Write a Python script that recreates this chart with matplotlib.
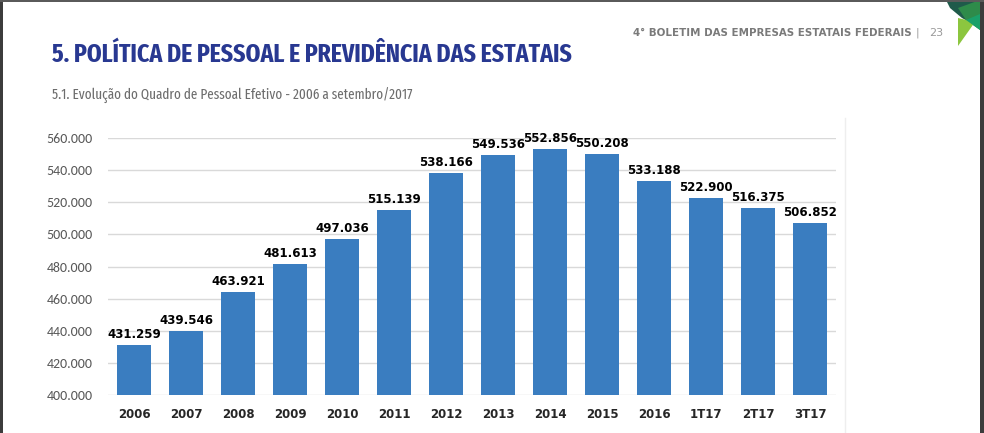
import matplotlib.pyplot as plt
import matplotlib.font_manager as fm
from matplotlib.patches import Polygon, Rectangle

# Data
categories = ["2006", "2007", "2008", "2009", "2010", "2011", "2012",
              "2013", "2014", "2015", "2016", "1T17", "2T17", "3T17"]
values = [431259, 439546, 463921, 481613, 497036, 515139, 538166,
          549536, 552856, 550208, 533188, 522900, 516375, 506852]
yticks = list(range(400000, 560001, 20000))

installed = {f.name for f in fm.fontManager.ttflist}


def pick(*names):
    return [n for n in names if n in installed] + ["DejaVu Sans"]


narrow = pick("Fira Sans Extra Condensed", "Sofia Sans Extra Condensed",
              "Fira Sans Condensed", "Roboto Condensed", "Saira SemiCondensed")
calibri = pick("Carlito", "Open Sans")

W, H = 984, 433
fig = plt.figure(figsize=(W / 100, H / 100), dpi=100)
fig.patch.set_facecolor("white")

ax = fig.add_axes([108 / W, 1 - 395 / H, (836 - 108) / W, (395 - 138) / H])
x = range(len(categories))
ax.bar(x, values, width=0.65, color="#3a7dc0", zorder=3)

ax.set_xlim(-0.5, len(categories) - 0.5)
ax.set_ylim(400000, 560000)
ax.set_yticks(yticks)
ax.set_yticklabels([f"{v:,}".replace(",", ".") for v in yticks],
                   fontsize=10, color="#595959", family=calibri)
ax.set_xticks(list(x))
ax.set_xticklabels(categories, fontsize=8.5, fontweight="bold", color="#262626")
ax.tick_params(axis="both", length=0)
ax.tick_params(axis="y", pad=11)
ax.tick_params(axis="x", pad=9)
ax.grid(axis="y", color="#d9d9d9", linewidth=1, zorder=0)
for s in ax.spines.values():
    s.set_visible(False)

for i, v in enumerate(values):
    ax.text(i, v + 2500, f"{v:,}".replace(",", "."), ha="center", va="bottom",
            fontsize=8.5, fontweight="bold", color="black")

# Page texts
title = fig.text(52 / W, 1 - 62 / H, "5. POLÍTICA DE PESSOAL E PREVIDÊNCIA DAS ESTATAIS",
                 family=narrow, fontsize=26, fontweight="bold", color="#283891",
                 ha="left", va="baseline")
sub = fig.text(52 / W, 1 - 100 / H, "5.1. Evolução do Quadro de Pessoal Efetivo - 2006 a setembro/2017",
               family=narrow, fontsize=14, color="#6d6d6d", ha="left", va="baseline")
head = fig.text(633 / W, 1 - 36 / H, "4° BOLETIM DAS EMPRESAS ESTATAIS FEDERAIS",
                fontsize=7.5, fontweight="bold", color="#7a7a7a", ha="left", va="baseline")
fig.text(916 / W, 1 - 36 / H, "|", fontsize=8, color="#9a9a9a", ha="left", va="baseline")
fig.text(929 / W, 1 - 36 / H, "23", fontsize=8, color="#9a9a9a", ha="left", va="baseline")

# shrink page texts so they span the same width as in the page
renderer = fig.canvas.get_renderer()
for t, target in ((title, 520), (sub, 360), (head, 278)):
    w = t.get_window_extent(renderer).width
    if w > target:
        t.set_fontsize(t.get_fontsize() * target / w)


def px(pts):
    return [(a / W, 1 - b / H) for a, b in pts]


# Green leaf logo in the top-right corner
for pts, c in (([(946, 0), (980, 0), (980, 28), (962, 18), (950, 8)], "#1f5a4a"),
               ([(958, 8), (980, 0), (980, 30), (966, 20)], "#2e8b4a"),
               ([(958, 18), (975, 22), (958, 46)], "#8cc63f"),
               ([(966, 20), (980, 30), (980, 14)], "#1aa06a")):
    fig.add_artist(Polygon(px(pts), closed=True, facecolor=c, edgecolor="none",
                           transform=fig.transFigure))

# Faint chart frame edge and dark screenshot borders
fig.add_artist(plt.Line2D([845 / W, 845 / W], [0, 1 - 118 / H],
                          color="#eeeeee", linewidth=1, transform=fig.transFigure))
fig.add_artist(Rectangle((0, 0), 3 / W, 1, facecolor="#3c3c3c", edgecolor="none",
                         transform=fig.transFigure))
fig.add_artist(Rectangle((980 / W, 0), 4 / W, 1, facecolor="#3c3c3c", edgecolor="none",
                         transform=fig.transFigure))
fig.add_artist(Rectangle((0, 1 - 2 / H), 1, 2 / H, facecolor="#5a5a5a", edgecolor="none",
                         transform=fig.transFigure))

fig.savefig("out.png", dpi=100)
